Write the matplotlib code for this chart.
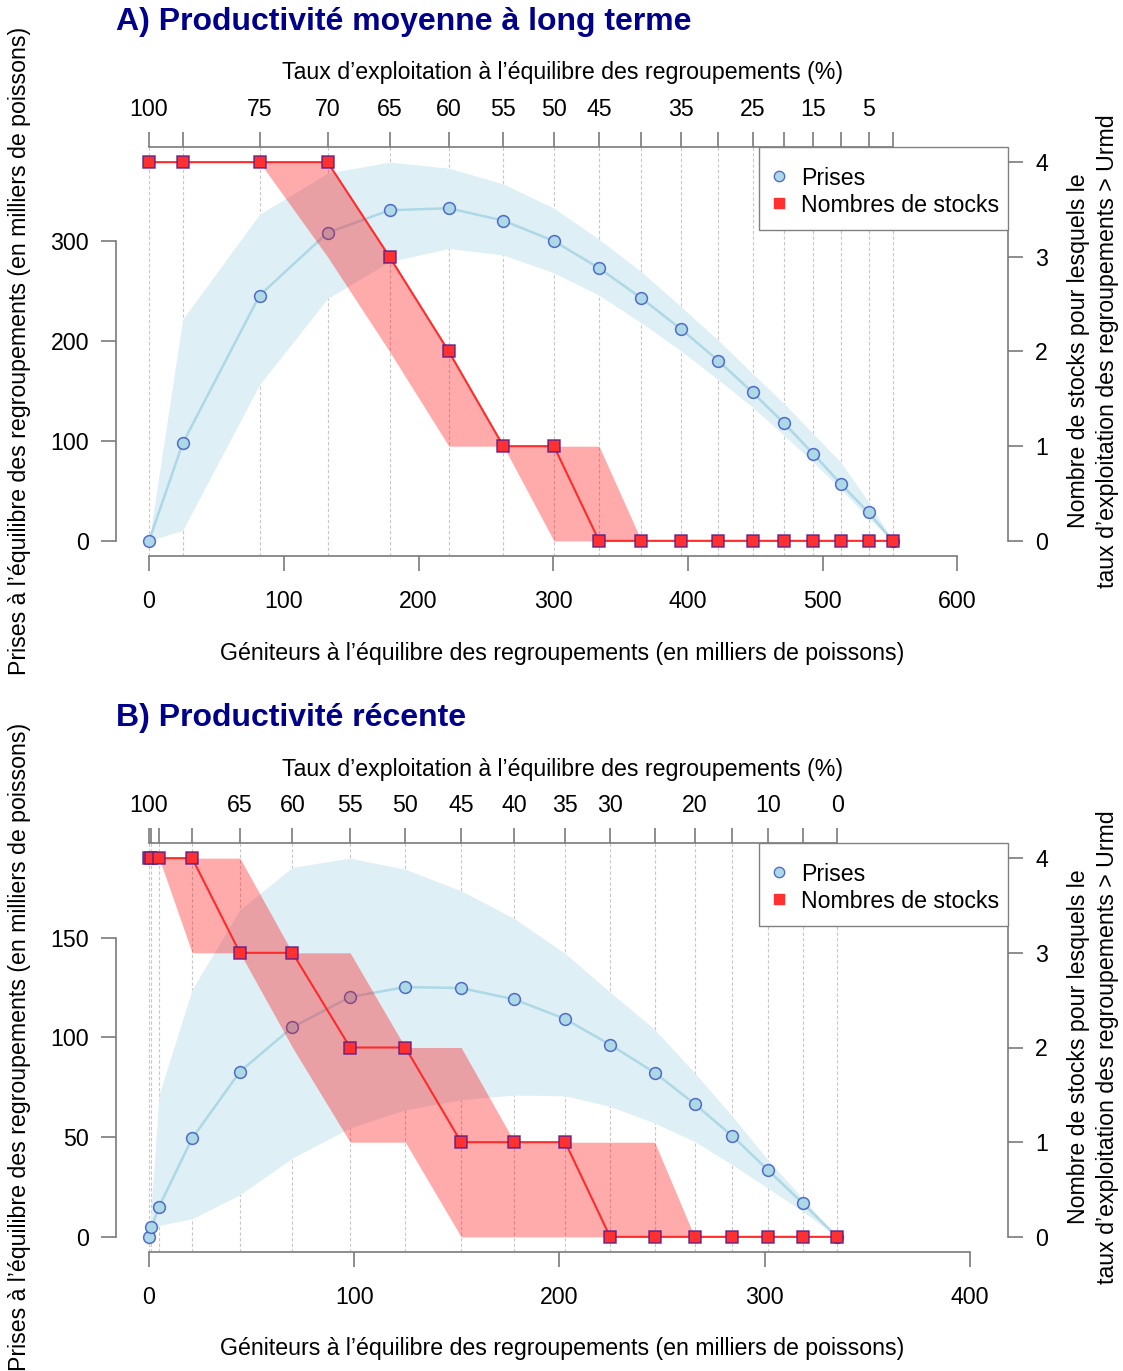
import numpy as np
import matplotlib
matplotlib.use('Agg')
import matplotlib.pyplot as plt
from matplotlib.lines import Line2D
from matplotlib.patches import Rectangle

plt.rcParams['font.family'] = ['Liberation Sans', 'DejaVu Sans']

# ---- Panel A : productivite moyenne a long terme ----
spawn_a = [0, 25, 82, 132.5, 178.5, 222.5, 263, 300.5, 334, 365.5, 395, 422.5,
           448, 471.5, 493, 513.5, 534, 552]
catch_a = [0, 97.6, 245.4, 308.2, 330.7, 332.7, 320.3, 299.9, 272.8, 242.7,
           211.6, 180.2, 148.4, 117.4, 87, 56.9, 28.4, 0]
catch_lo_a = [0, 10.7, 156.2, 242.4, 279.2, 292.5, 285.9, 268.1, 245.7, 218,
              189.9, 161.2, 133.7, 105.3, 78.5, 51.8, 22.5, 0]
catch_hi_a = [0, 221.7, 326.7, 367.8, 378.8, 372.8, 357, 332.7, 301.6, 269.1,
              234, 200.6, 167.2, 137.1, 107, 78.5, 39, 0]
stocks_a = [4, 4, 4, 4, 3, 2, 1, 1, 0, 0, 0, 0, 0, 0, 0, 0, 0, 0]
stocks_lo_a = [4, 4, 4, 3, 2, 1, 1, 0, 0, 0, 0, 0, 0, 0, 0, 0, 0, 0]
stocks_hi_a = [4, 4, 4, 4, 3, 2, 1, 1, 1, 0, 0, 0, 0, 0, 0, 0, 0, 0]
er_labels_a = ['100', '', '75', '70', '65', '60', '55', '50', '45', '', '35', '',
               '25', '', '15', '', '5', '']
xticks_a = [0, 100, 200, 300, 400, 500, 600]
yticks_a = [0, 100, 200, 300]

# ---- Panel B : productivite recente ----
spawn_b = [0, 1.2, 4.9, 21.0, 44.3, 69.9, 98.0, 124.9, 152.1, 178.1, 202.8,
           224.7, 246.4, 265.9, 284.3, 301.5, 318.5, 335.3]
catch_b = [0, 4.7, 15.2, 49.3, 82.8, 105.1, 120.2, 125.2, 124.7, 119, 109.2,
           96.3, 82.3, 66.6, 50.5, 33.6, 16.9, 0]
catch_lo_b = [0, 1.5, 5.7, 9.1, 21.1, 39.5, 54.6, 63.7, 68.7, 71.1, 70.7, 65.4,
              57, 47.8, 36.1, 24.5, 12.8, 0]
catch_hi_b = [0, 17, 71.2, 124, 164, 185.2, 189.8, 184.2, 173.4, 159.5, 142,
              122.6, 104, 82.2, 60.4, 38.7, 19.4, 0]
stocks_b = [4, 4, 4, 4, 3, 3, 2, 2, 1, 1, 1, 0, 0, 0, 0, 0, 0, 0]
stocks_lo_b = [4, 4, 4, 3, 3, 2, 1, 1, 0, 0, 0, 0, 0, 0, 0, 0, 0, 0]
stocks_hi_b = [4, 4, 4, 4, 4, 3, 3, 2, 2, 1, 1, 1, 1, 0, 0, 0, 0, 0]
er_labels_b = ['100', '', '', '', '65', '60', '55', '50', '45', '40', '35', '30',
               '', '20', '', '10', '', '0']
xticks_b = [0, 100, 200, 300, 400]
yticks_b = [0, 50, 100, 150]

legend_labels = ['Prises', 'Nombres de stocks']

W, H = 1123, 1371
fig = plt.figure(figsize=(W / 100, H / 100), dpi=100)

AX_COL = '#7a7a7a'
FS = 16.7
CIRC_EDGE = (0.2, 0.3, 0.75, 0.8)
SQ_EDGE = (0.35, 0.1, 0.55, 0.85)


def fx(x):
    return x / W


def fy(y):
    return 1 - y / H


def px_axes(l, t, r, b):
    return fig.add_axes([fx(l), fy(b), (r - l) / W, (b - t) / H])


def style(a, side, pad=9):
    for s in a.spines.values():
        s.set_visible(False)
    a.spines[side].set_visible(True)
    a.spines[side].set_color(AX_COL)
    a.spines[side].set_linewidth(1.2)
    a.tick_params(colors=AX_COL, labelcolor='black', length=10.5, width=1.2,
                  pad=pad, labelsize=FS)


def panel(dy, title, spawn, catch, lo, hi, stocks, s_lo, s_hi, er_labels,
          xmax, xticks, yticks):
    ax = px_axes(116, 147 + dy, 1008, 556 + dy)
    ymax = max(hi)
    ax.set_xlim(-0.04 * xmax, 1.04 * xmax)
    ax.set_ylim(-0.04 * ymax, 1.04 * ymax)
    for x in spawn:
        ax.axvline(x, color='#c8c8c8', ls=(0, (3, 2)), lw=0.8, zorder=0)
    ax.fill_between(spawn, lo, hi, color='#deeff5', lw=0, zorder=1)
    ax.plot(spawn, catch, color='#add8e6', lw=1.8, zorder=2)
    ax.plot(spawn, catch, ls='none', marker='o', ms=8.5, mfc='#add8e6',
            mec=CIRC_EDGE, mew=1.1, zorder=3)
    style(ax, 'bottom', pad=14)
    ax.tick_params(axis='y', pad=9)
    ax.spines['left'].set_visible(True)
    ax.spines['left'].set_color(AX_COL)
    ax.spines['left'].set_linewidth(1.2)
    ax.spines['bottom'].set_bounds(xticks[0], xticks[-1])
    ax.spines['left'].set_bounds(yticks[0], yticks[-1])
    ax.set_xticks(xticks)
    ax.set_yticks(yticks)

    ax2 = ax.twinx()
    ax2.set_ylim(-0.16, 4.16)
    ax2.fill_between(spawn, s_lo, s_hi, color=(1, 0, 0, 0.33), lw=0)
    ax2.plot(spawn, stocks, color='#ff2a2a', lw=1.5)
    ax2.plot(spawn, stocks, ls='none', marker='s', ms=8.5, mfc='#ff3030',
             mec=SQ_EDGE, mew=1.1)
    style(ax2, 'right')
    ax2.spines['right'].set_bounds(0, 4)
    ax2.set_yticks([0, 1, 2, 3, 4])

    axt = ax.twiny()
    axt.set_xlim(ax.get_xlim())
    style(axt, 'top', pad=8)
    axt.spines['top'].set_bounds(spawn[0], spawn[-1])
    axt.set_xticks(spawn)
    axt.set_xticklabels(er_labels)

    # legend box, R style
    fig.add_artist(Rectangle((fx(759), fy(230 + dy)), (1008 - 759) / W, 83 / H,
                             transform=fig.transFigure, facecolor='white',
                             edgecolor='#808080', lw=1.0, zorder=5))
    fig.add_artist(Line2D([fx(779)], [fy(176 + dy)], transform=fig.transFigure,
                          ls='none', marker='o', ms=7.5, mfc='#add8e6',
                          mec=CIRC_EDGE, mew=1, zorder=6))
    fig.add_artist(Line2D([fx(779)], [fy(203 + dy)], transform=fig.transFigure,
                          ls='none', marker='s', ms=7.5, mfc='#ff3030',
                          mec='#ff3030', zorder=6))
    for lab, yy in zip(legend_labels, [176, 203]):
        fig.text(fx(801), fy(yy + dy), lab, fontsize=FS, ha='left',
                 va='center_baseline', zorder=7)

    fig.text(fx(116), fy(22 + dy), title, fontsize=23, fontweight='bold',
             color='#00008b', ha='left', va='center')
    fig.text(fx(562), fy(73 + dy),
             'Taux d\u2019exploitation \u00e0 l\u2019\u00e9quilibre des regroupements (%)',
             fontsize=FS, ha='center', va='center')
    fig.text(fx(562), fy(653 + dy),
             'G\u00e9niteurs \u00e0 l\u2019\u00e9quilibre des regroupements (en milliers de poissons)',
             fontsize=FS, ha='center', va='center')
    fig.text(fx(20), fy(351 + dy),
             'Prises \u00e0 l\u2019\u00e9quilibre des regroupements (en milliers de poissons)',
             fontsize=FS, ha='center', va='center', rotation=90)
    fig.text(fx(1093), fy(351 + dy),
             'Nombre de stocks pour lesquels le\n'
             'taux d\u2019exploitation des regroupements > Urmd',
             fontsize=FS, ha='center', va='center', rotation=90,
             linespacing=1.3, multialignment='center')


panel(0, 'A) Productivit\u00e9 moyenne \u00e0 long terme', spawn_a, catch_a,
      catch_lo_a, catch_hi_a, stocks_a, stocks_lo_a, stocks_hi_a, er_labels_a,
      613, xticks_a, yticks_a)
panel(696, 'B) Productivit\u00e9 r\u00e9cente', spawn_b, catch_b,
      catch_lo_b, catch_hi_b, stocks_b, stocks_lo_b, stocks_hi_b, er_labels_b,
      402.5, xticks_b, yticks_b)

fig.savefig('out.png', dpi=100)
